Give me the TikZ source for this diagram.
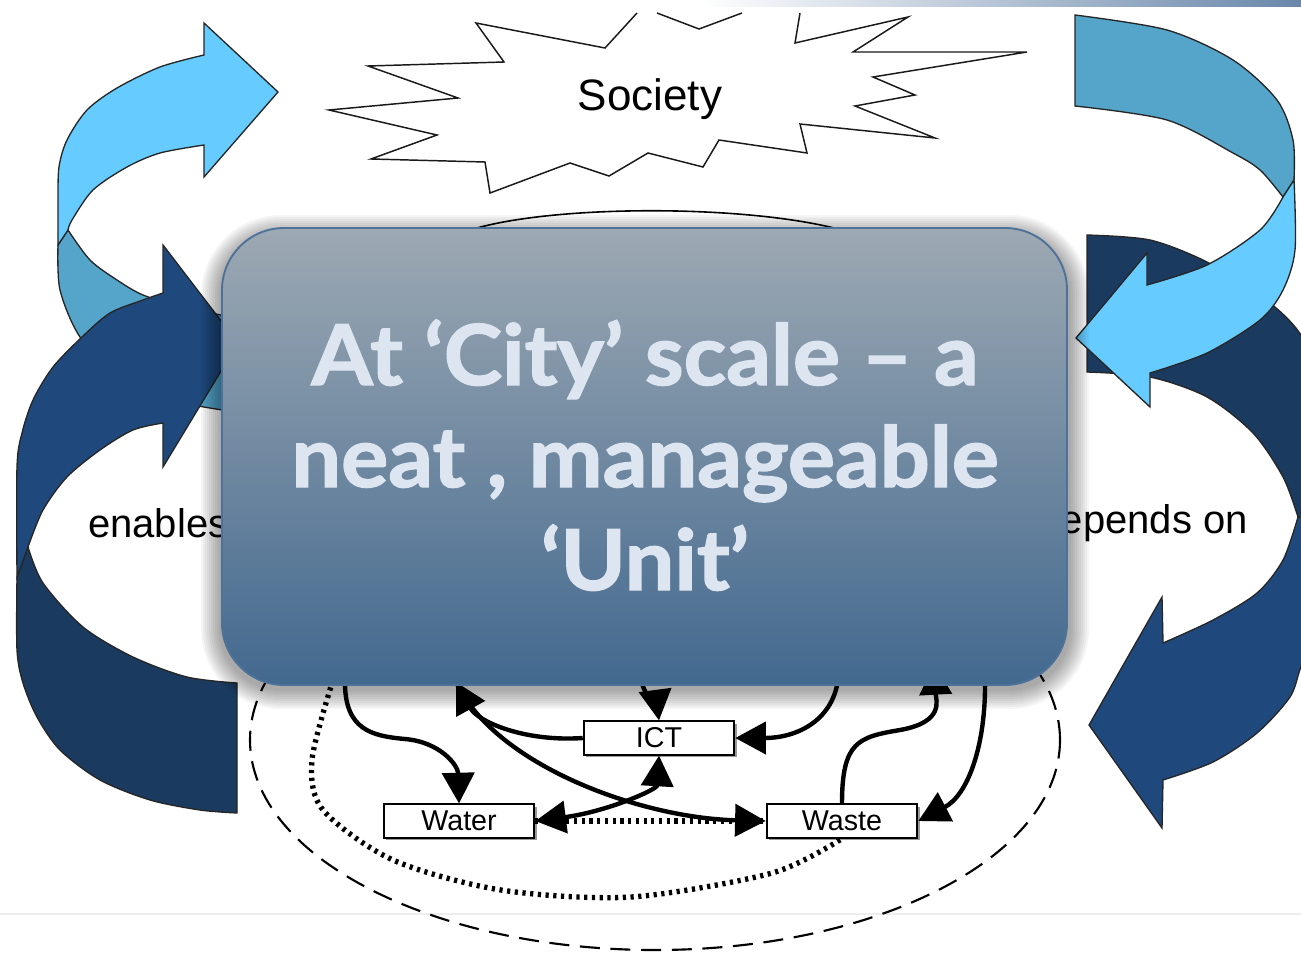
\documentclass[tikz,border=0pt]{standalone}
\usepackage{fontspec}
\setmainfont{Liberation Sans}
\newfontfamily\boxfont{Lato}[BoldFeatures={FakeBold=1.6}]
\usetikzlibrary{arrows.meta,shadows}
\definecolor{lightA}{HTML}{66CCFF}
\definecolor{tealA}{HTML}{55A5CA}
\definecolor{navyA}{HTML}{1F497D}
\definecolor{navyB}{HTML}{1B3A5F}
\definecolor{boxtop}{HTML}{9DA9B3}
\definecolor{boxmid}{HTML}{7E94AC}
\definecolor{boxbot}{HTML}{43698F}
\definecolor{boxedge}{HTML}{4D7199}
\definecolor{boxtext}{HTML}{DCE5F0}
\definecolor{stripblue}{HTML}{6A87AA}
\begin{document}
\begin{tikzpicture}[x=0.75pt,y=-0.75pt,
  ribbon/.style={draw=black!85,line width=1pt,line join=miter},
  starline/.style={draw=black!90,line width=1.1pt,line join=miter},
  conn/.style={line width=3.3pt,-{Triangle[length=23pt,width=24pt]}},
  dotline/.style={line width=4pt,dash pattern=on 2.4pt off 3.4pt},
  dashline/.style={line width=1.6pt,dash pattern=on 15pt off 8pt},
  lbl/.style={draw=black,line width=1.4pt,fill=white,minimum width=113pt,minimum height=25pt,inner sep=0pt,
    font=\fontsize{21.5}{24}\selectfont,drop shadow={shadow xshift=2pt,shadow yshift=-2pt,fill=black!40,opacity=1}},
  side/.style={font=\fontsize{30}{32}\selectfont},
  bigtext/.style={font=\boxfont\bfseries\fontsize{63}{70}\selectfont,text=boxtext,anchor=base,inner sep=0pt}
]
\useasboundingbox (0,0) rectangle (1301,953);
\clip (0,0) rectangle (1301,953);

% frame remnants
\shade[left color=white,right color=stripblue] (700,0) rectangle (1301,6);
\draw[black!7,line width=1.5pt] (0,914) -- (1301,914);

% Society star
\draw[starline] (637,13) -- (605,48) -- (476,23) -- (504,62) -- (368,66) -- (458,98) -- (329,110) -- (437,135)
  -- (371,159) -- (485,162) -- (490,193) -- (570,163) -- (609,176) -- (648,153) -- (703,167) -- (719,140)
  -- (807,153) -- (800,124) -- (935,138) -- (855,106) -- (915,95) -- (873,77) -- (1027,52) -- (853,52)
  -- (908,17) -- (795,43) -- (800,13);
\draw[starline] (657,13) -- (699,29) -- (742,13);
\node[font=\fontsize{33}{36}\selectfont,anchor=base,inner sep=0pt] (soc) at (650,110) {Society};

% left light arrow
\filldraw[ribbon,fill=tealA] (68,230) -- plot[smooth] coordinates {(58,245) (60,290) (80,337) (120,378) (170,400) (235,412)}
  -- (235,318) -- plot[smooth] coordinates {(235,318) (180,306) (143,295) (117,280) (90,260) (68,230)} -- cycle;
\filldraw[ribbon,fill=lightA] plot[smooth] coordinates {(58,245) (58,200) (59,167) (67,140) (87,110) (117,88) (160,67) (204,55)}
  -- (204,23) -- (278,92) -- (204,177) -- (204,145)
  -- plot[smooth] coordinates {(204,145) (160,153) (127,167) (93,190) (72,220) (68,230)} -- cycle;

% left dark arrow
\filldraw[ribbon,fill=navyB] (28,547) -- plot[smooth] coordinates {(28,547) (43,583) (83,627) (133,657) (187,677) (237,683)}
  -- (237,813) -- plot[smooth] coordinates {(237,813) (200,810) (150,800) (100,780) (60,750) (37,717) (23,683) (17,650) (17,577)} -- cycle;
\filldraw[ribbon,fill=navyA] plot[smooth] coordinates {(17,577) (17,467) (22,433) (33,400) (53,367) (82,337) (110,313) (143,300) (163,293)}
  -- (163,245) -- (238,343) -- (163,467) -- (163,423)
  -- plot[smooth] coordinates {(163,423) (133,430) (100,450) (67,477) (43,510) (28,547)} -- cycle;

% right dark arrow
\filldraw[ribbon,fill=navyB] plot[smooth] coordinates {(1087,235) (1150,240) (1207,262) (1260,295) (1301,335) (1335,410) (1350,515)}
  -- (1298,517) -- plot[smooth] coordinates {(1298,517) (1283,477) (1253,433) (1207,397) (1150,377) (1087,372)} -- cycle;
\filldraw[ribbon,fill=navyA] plot[smooth] coordinates {(1350,515) (1338,600) (1315,645) (1301,667) (1290,697) (1257,733) (1213,762) (1163,780)}
  -- (1162,828) -- (1089,725) -- (1162,597) -- (1163,643)
  -- plot[smooth] coordinates {(1163,643) (1213,620) (1257,593) (1283,560) (1298,517)} -- cycle;

% right light arrow
\filldraw[ribbon,fill=tealA] plot[smooth] coordinates {(1075,15) (1167,30) (1233,60) (1277,100) (1293,140) (1294,180)}
  -- (1283,197) -- plot[smooth] coordinates {(1283,197) (1260,170) (1233,153) (1167,120) (1075,106)} -- cycle;
\filldraw[ribbon,fill=lightA] plot[smooth] coordinates {(1294,180) (1295,250) (1283,290) (1260,320) (1207,353) (1150,373)}
  -- (1150,407) -- (1076,338) -- (1147,253) -- (1147,285)
  -- plot[smooth] coordinates {(1147,285) (1207,265) (1260,230) (1283,197)} -- cycle;

% arc under the star
\draw[line width=1.2pt] (477,228) .. controls (560,205) and (740,205) .. (834,228);

% dashed outer loop
\draw[dashline] (655,740) ellipse [x radius=303.75pt,y radius=157.5pt];

% unit boxes
\node[lbl] (ICT) at (659,738) {ICT};
\node[lbl] (Water) at (459,821) {Water};
\node[lbl] (Waste) at (842,821) {Waste};

\coordinate (c1) at (345,680);
\coordinate (c2) at (456,682);
\coordinate (c3) at (641,680);
\coordinate (c4) at (838,680);
\coordinate (c5) at (934,664);
\coordinate (c6) at (985,680);
\coordinate (c7) at (333,680);

\draw[dotline] plot[smooth] coordinates {(c7) (312,760) (323,810) (393,860) (501,890) (631,897) (772,873) (Waste.south)};
\draw[dotline] (Water.east) -- (Waste.west);

\draw[conn] (c1) .. controls (344,730) and (372,736) .. (405,739) .. controls (440,742) and (458,765) .. (Water.north);
\draw[conn] (ICT.west) .. controls (525,742) and (478,722) .. (c2);
\draw[conn] (c2) .. controls (495,765) and (640,818) .. (Waste.west);
\draw[conn] (c3) .. controls (646,700) and (657,705) .. (ICT.north);
\draw[conn] (c4) .. controls (832,722) and (795,738) .. (ICT.east);
\draw[conn] (Waste.north) .. controls (842,742) and (858,737) .. (900,730) .. controls (945,722) and (936,700) .. (c5);
\draw[conn] (c6) .. controls (986,745) and (968,795) .. (Waste.east);
\draw[line width=3.3pt,{Triangle[length=23pt,width=24pt]}-{Triangle[length=23pt,width=24pt]}] (Water.east) .. controls (605,812) and (657,790) .. (ICT.south);

% side labels
\node[side,anchor=base west,inner sep=0pt] (en) at (88,537) {enables};
\node[side,anchor=base east,inner sep=0pt] (dep) at (1248,533) {depends on};

% soft shadow of the big box
\foreach \i in {0,...,9}{
  \pgfmathsetmacro\o{2*\i}
  \pgfmathsetmacro\rr{46.5+0.75*\o}
  \fill[black,opacity=0.04,rounded corners=\rr pt] (219-\o,233-\o) rectangle (1071+\o,691+\o);
}
\node[rectangle,rounded corners=46.5pt,minimum width=633.75pt,minimum height=342.75pt,draw=boxedge,line width=1.4pt,
  top color=boxtop,middle color=boxmid,bottom color=boxbot] (unit) at (644.5,456.5) {};
\node[bigtext] (t1) at (645,385) {\scalebox{1.05}[1]{At ‘City’ scale – a}};
\node[bigtext] (t2) at (645,487) {\scalebox{1.05}[1]{neat , manageable}};
\node[bigtext] (t3) at (645,590) {\scalebox{1.05}[1]{‘Unit’}};
\end{tikzpicture}
\end{document}
